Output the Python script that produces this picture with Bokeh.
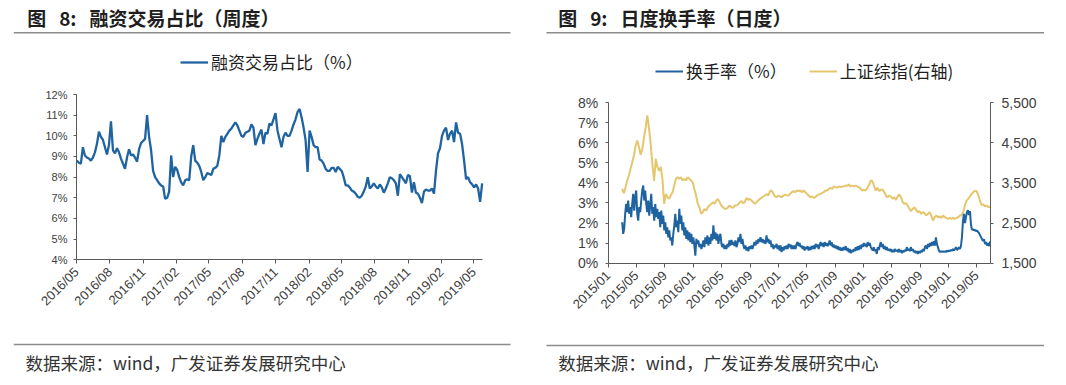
import math
import pandas as pd
from bokeh.plotting import figure
from bokeh.models import (Range1d, LinearAxis, DatetimeAxis, FixedTicker, PrintfTickFormatter,
                          NumeralTickFormatter, DatetimeTickFormatter, Legend, LegendItem, Grid)
from bokeh.core.properties import value
from bokeh.embed import file_html
from bokeh.resources import INLINE

# ---------------- data ----------------
NB = "\u00a0\u00a0\u00a0"
left_title = "图" + NB + "8:" + NB + "融资交易占比（周度）"
right_title = "图" + NB + "9:" + NB + "日度换手率（日度）"
source_text = "数据来源：wind，广发证券发展研究中心"
left_series_name = "融资交易占比（%）"
turnover_name = "换手率（%）"
sse_name = "上证综指(右轴)"

left_start, left_end = "2016-05-02", "2019-05-24"
left_xlim = ("2016-05-01", "2019-05-25")
left_ticks = ["2016/05", "2016/08", "2016/11", "2017/02", "2017/05", "2017/08", "2017/11",
              "2018/02", "2018/05", "2018/08", "2018/11", "2019/02", "2019/05"]
left_yticks = [4, 5, 6, 7, 8, 9, 10, 11, 12]
# weekly margin-trading share (%)
margin_share = [
    8.8, 8.7, 8.65, 9.45, 9.05, 8.95, 8.9, 8.8, 8.95, 9.2, 9.6, 10.2, 9.95, 9.8, 9.45, 9.1,
    9.55, 10.7, 9.3, 9.15, 9.4, 9.2, 8.9, 8.65, 8.4, 8.95, 9.35, 9.05, 9.1, 8.95, 8.75, 9.35,
    9.65, 9.75, 9.85, 11.0, 9.95, 9.3, 8.3, 8.0, 7.85, 7.7, 7.6, 7.55, 6.95, 7.0, 7.3, 9.05,
    8.0, 8.5, 8.35, 8.0, 7.75, 7.6, 7.85, 7.9, 7.85, 9.0, 9.55, 8.8, 8.7, 8.55, 8.25, 7.85,
    8.0, 8.2, 8.15, 8.1, 8.4, 8.45, 8.55, 9.05, 10.0, 9.7, 9.95, 10.1, 10.25, 10.35, 10.5,
    10.65, 10.5, 10.25, 10.0, 9.95, 10.15, 10.2, 10.25, 10.55, 10.4, 9.55, 9.85, 10.1, 10.3,
    9.6, 10.15, 10.1, 10.6, 10.5, 10.8, 11.1, 10.25, 9.85, 9.45, 9.95, 10.15, 10.0, 10.0,
    10.25, 10.55, 10.8, 11.15, 11.3, 10.9, 10.4, 9.8, 8.25, 10.25, 9.95, 9.55, 9.45, 9.45,
    8.85, 8.8, 8.65, 8.4, 8.3, 8.3, 8.45, 8.45, 8.25, 8.5, 8.4, 8.3, 8.0, 7.6, 7.6, 7.5,
    7.35, 7.3, 7.2, 7.05, 7.0, 7.1, 7.3, 7.55, 8.0, 7.45, 7.55, 7.7, 7.55, 7.45, 7.65, 7.5,
    7.25, 7.45, 7.7, 8.0, 7.95, 7.85, 7.7, 7.1, 8.15, 8.0, 7.85, 7.7, 8.1, 8.05, 7.25, 7.75,
    7.25, 7.2, 7.0, 6.75, 7.3, 7.4, 7.35, 7.35, 7.45, 7.2, 8.3, 9.15, 9.4, 10.0, 10.25, 10.4,
    9.8, 10.1, 10.25, 9.7, 10.65, 10.15, 10.1, 9.6, 8.8, 7.9, 8.0, 7.75, 7.65, 7.5, 7.65,
    7.45, 6.8, 7.7]

right_start, right_end = "2015-03-02", "2019-06-28"
right_xlim = ("2015-01-01", "2019-06-30")
right_ticks = ["2015/01", "2015/05", "2015/09", "2016/01", "2016/05", "2016/09", "2017/01",
               "2017/05", "2017/09", "2018/01", "2018/05", "2018/09", "2019/01", "2019/05"]
right_yticks = [0, 1, 2, 3, 4, 5, 6, 7, 8]
right_y2ticks = [1500, 2500, 3500, 4500, 5500]
# daily turnover rate (%)
turnover = [
    2.04, 1.46, 1.71, 2.46, 2.95, 2.54, 3.12, 2.46, 2.79, 2.29, 2.95, 3.45, 2.62, 3.29, 3.62,
    2.46, 2.12, 2.79, 2.54, 3.12, 3.62, 3.87, 3.12, 3.62, 2.95, 2.54, 3.12, 2.37, 2.87, 3.45,
    2.46, 2.79, 2.12, 2.95, 2.29, 2.71, 2.21, 2.54, 1.79, 2.62, 1.96, 2.37, 1.63, 2.04, 1.46,
    1.79, 1.29, 1.63, 1.13, 1.29, 0.88, 1.46, 1.88, 2.46, 1.79, 2.12, 1.54, 2.71, 1.96, 2.37,
    1.63, 2.04, 1.38, 1.79, 1.21, 1.63, 1.13, 1.54, 1.05, 1.46, 0.96, 1.29, 0.88, 0.38, 1.21,
    0.96, 1.13, 0.80, 0.96, 0.71, 0.88, 1.13, 0.80, 1.29, 0.96, 1.38, 0.88, 1.29, 0.96, 1.46,
    1.13, 1.88, 1.21, 1.54, 1.13, 1.46, 0.96, 1.29, 1.46, 0.96, 0.80, 0.96, 0.71, 0.88, 0.71,
    0.96, 0.80, 1.13, 0.88, 1.16, 0.93, 1.05, 0.85, 1.13, 0.80, 0.96, 1.29, 1.05, 1.46, 0.96,
    1.21, 0.88, 0.71, 0.88, 0.63, 0.80, 0.60, 0.85, 0.71, 0.88, 0.71, 0.88, 1.05, 0.88, 1.13,
    0.96, 1.21, 1.05, 1.29, 1.05, 1.21, 1.00, 1.16, 0.96, 1.38, 1.05, 1.21, 0.96, 1.13, 0.80,
    0.96, 0.71, 0.88, 0.80, 0.96, 0.71, 0.88, 0.63, 0.88, 0.55, 0.80, 0.63, 0.85, 0.71, 0.88,
    0.71, 0.96, 0.80, 0.93, 0.71, 0.88, 0.71, 0.88, 0.71, 0.96, 1.05, 0.85, 1.00, 0.80, 0.88,
    0.71, 0.85, 0.63, 0.80, 0.71, 0.85, 0.63, 0.80, 0.66, 0.85, 0.71, 0.88, 0.71, 0.96, 0.80,
    0.93, 0.71, 0.88, 1.05, 0.85, 1.00, 0.80, 1.05, 0.88, 1.00, 0.85, 0.96, 1.13, 0.88, 1.05,
    0.80, 0.93, 0.76, 0.88, 0.71, 0.85, 0.66, 0.80, 0.63, 0.76, 0.63, 0.80, 0.66, 0.85, 0.63,
    0.76, 0.55, 0.71, 0.50, 0.66, 0.55, 0.71, 0.60, 0.80, 0.63, 0.85, 0.66, 0.88, 0.71, 0.93,
    0.80, 1.00, 0.85, 0.96, 0.80, 1.05, 0.88, 1.00, 0.80, 0.71, 0.63, 0.80, 0.60, 0.70, 0.46,
    0.80, 0.66, 0.88, 1.05, 0.80, 0.96, 0.71, 0.85, 0.66, 0.80, 0.63, 0.71, 0.60, 0.71, 0.55,
    0.66, 0.55, 0.71, 0.60, 0.66, 0.55, 0.71, 0.55, 0.66, 0.50, 0.63, 0.55, 0.66, 0.60, 0.80,
    0.63, 0.71, 0.60, 0.80, 0.63, 0.71, 0.55, 0.63, 0.50, 0.60, 0.46, 0.60, 0.50, 0.63, 0.55,
    0.71, 0.60, 0.80, 0.88, 0.71, 0.96, 0.80, 1.00, 0.85, 1.05, 0.88, 1.10, 0.88, 1.29, 0.96,
    0.80, 0.63, 0.55, 0.60, 0.55, 0.60, 0.55, 0.60, 0.55, 0.63, 0.58, 0.63, 0.60, 0.66, 0.62,
    0.71, 0.63, 0.71, 0.80, 0.66, 0.71, 0.80, 0.71, 0.85, 1.30, 2.10, 2.46, 2.00, 2.30, 2.55,
    2.64, 2.40, 2.60, 1.90, 1.66, 1.70, 1.63, 1.66, 1.60, 1.63, 1.55, 1.50, 1.40, 1.30, 1.20,
    1.10, 1.20, 0.95, 1.05, 0.88, 1.00, 0.85, 1.08]
# Shanghai Composite index (right axis)
sse = [
    3351, 3243, 3392, 3558, 3683, 3849, 4015, 4180, 4430, 4554, 4388, 4200, 4346, 4637, 4886,
    5176, 4850, 4450, 3950, 3550, 4097, 3890, 3800, 3900, 3580, 2977, 3226, 3143, 3102, 3200,
    3268, 3434, 3600, 3641, 3600, 3641, 3558, 3600, 3558, 3641, 3600, 3558, 3517, 3350, 3185,
    2977, 2894, 2728, 2770, 2853, 2811, 2894, 2936, 2977, 3019, 2977, 3060, 3102, 3019, 2936,
    2894, 2853, 2853, 2894, 2936, 2894, 2878, 2936, 2936, 2961, 3019, 3044, 2994, 3019, 3127,
    3077, 3102, 3060, 3019, 2977, 3019, 3060, 3102, 3127, 3160, 3185, 3226, 3185, 3293, 3309,
    3226, 3160, 3143, 3185, 3160, 3143, 3185, 3210, 3185, 3185, 3226, 3268, 3293, 3268, 3309,
    3293, 3309, 3268, 3309, 3268, 3226, 3185, 3143, 3160, 3127, 3143, 3185, 3210, 3226, 3243,
    3268, 3309, 3309, 3351, 3376, 3351, 3409, 3392, 3376, 3409, 3392, 3409, 3409, 3434, 3425,
    3459, 3409, 3434, 3409, 3434, 3409, 3392, 3351, 3309, 3326, 3309, 3376, 3459, 3558, 3540,
    3420, 3309, 3376, 3300, 3330, 3326, 3268, 3185, 3143, 3185, 3160, 3102, 3143, 3077, 3160,
    3210, 3143, 3019, 2977, 2994, 2936, 2853, 2795, 2853, 2894, 2828, 2770, 2795, 2728, 2770,
    2745, 2687, 2728, 2770, 2687, 2562, 2645, 2687, 2645, 2662, 2629, 2687, 2645, 2629, 2604,
    2629, 2604, 2629, 2604, 2629, 2645, 2687, 2687, 2770, 2936, 3060, 3102, 3160, 3226, 3268,
    3300, 3290, 3200, 3050, 2950, 2961, 2911, 2936, 2894, 2911]

# ---------------- style ----------------
BLUE = "#1f64a0"
GOLD = "#e6c66c"
TXT = "#404040"
AXC = "#595959"
RULE = "#8c8c8c"
CJK = "Noto Sans CJK SC"
LAT = "Liberation Sans"
W, H = 1066, 385

# plot-area boxes on the canvas (left, right, top, bottom), in pixels from top-left
LEFT_BOX = (76, 482, 94, 259.3)
RIGHT_BOX = (607.7, 990, 102, 262.7)


def ms(s):
    return pd.Timestamp(s.replace("/", "-") + ("-01" if len(s) == 7 else "")).value / 1e6


def span_range(v0, v1, p0, p1, c0, c1):
    """Range whose values v0,v1 fall at canvas pixels p0,p1; returns values at pixels c0,c1."""
    k = (v1 - v0) / (p1 - p0)
    return Range1d(start=v0 + (c0 - p0) * k, end=v0 + (c1 - p0) * k)


def x_range_for(box, lim):
    return span_range(ms(lim[0]), ms(lim[1]), box[0], box[1], 0, W)


def y_range_for(box, lo, hi):
    return span_range(lo, hi, box[3], box[2], H, 0)


def style_axis(ax, size, standoff, tick=3):
    ax.axis_line_color = AXC
    ax.axis_line_width = 1
    ax.major_tick_line_color = AXC
    ax.major_tick_in = 0
    ax.major_tick_out = tick
    ax.minor_tick_line_color = None
    ax.major_label_text_font = LAT
    ax.major_label_text_font_size = size
    ax.major_label_text_color = TXT
    ax.major_label_standoff = standoff


def date_fmt():
    f = "%Y/%m"
    return DatetimeTickFormatter(days=f, months=f, years=f, hours=f, minutes=f, seconds=f,
                                 milliseconds=f, microseconds=f, hourmin=f, minsec=f)


p = figure(width=W, height=H, x_range=Range1d(0, W), y_range=Range1d(H, 0),
           toolbar_location=None, output_backend="svg", min_border=0,
           x_axis_location=None, y_axis_location=None, outline_line_color=None)
for r in list(p.center):
    if isinstance(r, Grid):
        r.visible = False

p.extra_x_ranges = {"t1": x_range_for(LEFT_BOX, left_xlim), "t2": x_range_for(RIGHT_BOX, right_xlim)}
p.extra_y_ranges = {"p1": y_range_for(LEFT_BOX, 4, 12), "p2": y_range_for(RIGHT_BOX, 0, 8),
                    "i2": y_range_for(RIGHT_BOX, 1500, 5500)}

# ---------------- left chart ----------------
left_dates = pd.date_range(left_start, left_end, periods=len(margin_share))
rl = p.line(left_dates, margin_share, line_color=BLUE, line_width=2.3,
            x_range_name="t1", y_range_name="p1")

lx = DatetimeAxis(x_range_name="t1", y_range_name="p1", fixed_location=4,
                  bounds=(ms(left_xlim[0]), ms(left_xlim[1])),
                  ticker=FixedTicker(ticks=[ms(t) for t in left_ticks]), formatter=date_fmt())
lx.major_label_orientation = math.pi / 4
style_axis(lx, "13px", 6, tick=4)
p.add_layout(lx, "below")
ly = LinearAxis(x_range_name="t1", y_range_name="p1", fixed_location=ms(left_xlim[0]),
                bounds=(4, 12), ticker=FixedTicker(ticks=left_yticks),
                formatter=PrintfTickFormatter(format="%d%%"))
style_axis(ly, "11px", 6)
p.add_layout(ly, "left")

# ---------------- right chart ----------------
blue_dates = pd.date_range(right_start, right_end, periods=len(turnover))
gold_dates = pd.date_range(right_start, right_end, periods=len(sse))
rg = p.line(gold_dates, sse, line_color=GOLD, line_width=2.0, x_range_name="t2", y_range_name="i2")
rb = p.line(blue_dates, turnover, line_color=BLUE, line_width=2.0, x_range_name="t2", y_range_name="p2")

rx = DatetimeAxis(x_range_name="t2", y_range_name="p2", fixed_location=0,
                  bounds=(ms(right_xlim[0]), ms(right_xlim[1])),
                  ticker=FixedTicker(ticks=[ms(t) for t in right_ticks]), formatter=date_fmt())
rx.major_label_orientation = math.pi / 4
style_axis(rx, "13px", 6, tick=4)
p.add_layout(rx, "below")
ry = LinearAxis(x_range_name="t2", y_range_name="p2", fixed_location=ms(right_xlim[0]),
                bounds=(0, 8), ticker=FixedTicker(ticks=right_yticks),
                formatter=PrintfTickFormatter(format="%d%%"))
style_axis(ry, "14px", 7)
p.add_layout(ry, "left")
ry2 = LinearAxis(x_range_name="t2", y_range_name="i2", fixed_location=ms(right_xlim[1]),
                 bounds=(1500, 5500), ticker=FixedTicker(ticks=right_y2ticks),
                 formatter=NumeralTickFormatter(format="0,0"))
style_axis(ry2, "14px", 8)
p.add_layout(ry2, "right")

# ---------------- legends ----------------
def make_legend(items, loc):
    return Legend(items=items, location=loc, orientation="horizontal", padding=0, margin=0,
                  spacing=22, glyph_width=28, glyph_height=16, label_height=16, label_standoff=3,
                  label_text_font=CJK, label_text_font_size="17px", label_text_color="#1e1e1e",
                  border_line_alpha=0, background_fill_alpha=0)

p.add_layout(make_legend([LegendItem(label=left_series_name, renderers=[rl])], (180, 311)))
p.add_layout(make_legend([LegendItem(label=turnover_name, renderers=[rb]),
                          LegendItem(label=sse_name, renderers=[rg])], (655, 302)))

# ---------------- titles, rules, sources ----------------
p.text(x=[26.7, 557.7], y=[17, 17], text=[left_title, right_title], text_font=value(CJK),
       text_font_size="19px", text_font_style="bold", text_color="#1e1e1e",
       text_baseline="middle", text_align="left")
p.segment(x0=[13.3, 546, 13.3, 546], y0=[32.3, 32.3, 344, 345],
          x1=[510, 1043.5, 510, 1043.5], y1=[32.3, 32.3, 344, 345],
          line_color=RULE, line_width=1.6)
p.text(x=[25, 557.7], y=[362, 362], text=[source_text, source_text], text_font=value(CJK),
       text_font_size="17.5px", text_color="#333333", text_baseline="middle", text_align="left")

open("out.html", "w").write(file_html(p, INLINE))
